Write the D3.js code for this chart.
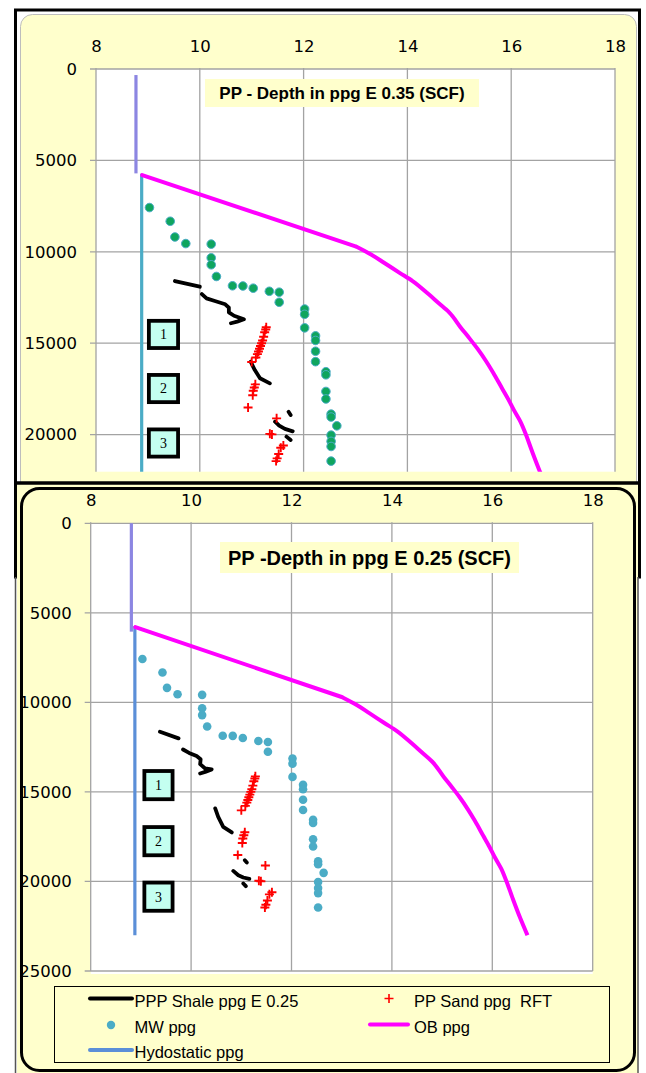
<!DOCTYPE html>
<html>
<head>
<meta charset="utf-8">
<script src="https://cdn.jsdelivr.net/npm/d3@7"></script>
<style>
  html, body { margin: 0; padding: 0; background: #fff; }
  svg { display: block; }
</style>
</head>
<body>
<svg id="chart" width="646" height="1073"></svg>
<script>
// ---- data (ppg vs depth in ft) ----
const ppgTicks = [8, 10, 12, 14, 16, 18];
const depthTicks = [0, 5000, 10000, 15000, 20000, 25000];

// mud weight
const mwPpg = [
  [9.03, 7580], [9.43, 8330], [9.52, 9190], [9.73, 9550], [10.22, 9580],
  [10.22, 10330], [10.22, 10710], [10.32, 11350], [10.63, 11860], [10.83, 11870],
  [11.03, 11990], [11.34, 12160], [11.53, 12210], [11.53, 12760], [12.02, 13130],
  [12.02, 13420], [12.02, 14160], [12.23, 14600], [12.23, 14850], [12.23, 15440],
  [12.23, 16010], [12.43, 16560], [12.43, 16730], [12.43, 17640], [12.43, 18050],
  [12.53, 18880], [12.53, 19040], [12.64, 19520], [12.53, 20030], [12.53, 20370],
  [12.53, 20650], [12.53, 21450]
];

// RFT sand pressures
const rftPpg = [
  [11.28, 14130], [11.27, 14250], [11.25, 14400], [11.23, 14650], [11.21, 14850],
  [11.19, 15000], [11.17, 15150], [11.15, 15300], [11.13, 15450], [11.11, 15600],
  [11.08, 15780], [11.00, 16030],
  [11.07, 17250], [11.05, 17420], [11.03, 17600], [11.02, 17850], [10.93, 18520],
  [11.48, 19110], [11.35, 19960], [11.39, 19990], [11.61, 20600], [11.56, 20720],
  [11.52, 21060], [11.49, 21300], [11.47, 21450]
];

// overburden
const obPpg = [
  [8.89, 5800], [13.0, 9700], [13.3, 10150], [13.55, 10600], [13.85, 11150],
  [14.1, 11600], [14.4, 12300], [14.6, 12800], [14.8, 13300], [15.03, 14150],
  [15.2, 14750], [15.35, 15300], [15.52, 16000], [15.65, 16600], [15.82, 17450],
  [15.95, 18100], [16.05, 18650], [16.18, 19300], [16.27, 19900], [16.4, 20900],
  [16.55, 22000], [16.7, 23000]
];

// hydrostatic
const hydrostaticPpg = [[8.88, 5730], [8.88, 23000]];

// shallow gradient above the overburden kick-off
const shallowPpgE35 = [[8.77, 330], [8.77, 5710]];
const shallowPpgE25 = [[8.81, 0], [8.81, 6050]];

// shale pore pressure (null separates log intervals)
const shaleE35 = [
  [9.52, 11600], [10.0, 11910], null,
  [10.04, 12310], [10.13, 12545], [10.29, 12690], [10.49, 12870], [10.56, 13060],
  [10.56, 13310], [10.66, 13500], [10.85, 13690], [10.72, 13820], [10.60, 13910], null,
  [10.98, 16010], [11.06, 16470], [11.16, 16920], [11.35, 17195], null,
  [11.71, 18750], [11.75, 18930], null,
  [11.45, 19290], [11.53, 19510], [11.64, 19690], [11.79, 19820], null,
  [11.67, 20110], [11.75, 20295]
];
const shaleE25 = [
  [9.38, 11640], [9.75, 12010], null,
  [9.84, 12630], [9.96, 12820], [10.11, 13000], [10.19, 13180], [10.18, 13450],
  [10.28, 13690], [10.41, 13740], [10.28, 13880], [10.18, 13970], null,
  [10.48, 15920], [10.54, 16390], [10.64, 16950], [10.81, 17260], null,
  [11.07, 18810], [11.11, 18940], null,
  [10.84, 19410], [10.94, 19650], [11.04, 19780], [11.16, 19855], null,
  [11.04, 20110], [11.09, 20260]
];

const zoneLabels = ["1", "2", "3"];
const legendLabels = ["PPP Shale ppg E 0.25", "PP Sand ppg  RFT", "MW ppg", "OB ppg", "Hydostatic ppg"];

// ---- drawing ----
const svg = d3.select("#chart");
const YELLOW = "#FFFFCC";
const GRID = "#A3A3A3";

// frame of the upper chart
svg.append("rect").attr("x", 15.5).attr("y", 10).attr("width", 624).attr("height", 567)
  .attr("fill", "#fff").attr("stroke", "#000").attr("stroke-width", 3);
svg.append("rect").attr("x", 20.5).attr("y", 14.5).attr("width", 616).attr("height", 620)
  .attr("rx", 12).attr("fill", YELLOW).attr("stroke", "#BDBDBD").attr("stroke-width", 1);

const panels = [
  {
    id: "e35", title: "PP - Depth in ppg E 0.35 (SCF)", titleSize: 17,
    titleBox: [205, 79, 274, 28],
    shale: shaleE35, shallow: shallowPpgE35,
    xr: [96, 615], yr: [69, 526], clipBottom: 471.7,
    mwFill: "#0FA55E", mwStroke: "#4BACC6", hydroColor: "#4BACC6",
    zoneX: 9.30, zoneDepths: [14520, 17480, 20460], zoneSize: [33, 31],
    tickSize: 16.5
  },
  {
    id: "e25", title: "PP -Depth in ppg E 0.25 (SCF)", titleSize: 20,
    titleBox: [220, 542, 299, 31],
    shale: shaleE25, shallow: shallowPpgE25,
    xr: [90.7, 592.7], yr: [523.3, 971], clipBottom: 975,
    mwFill: "#4BACC6", mwStroke: "none", hydroColor: "#5B8FD8",
    zoneX: 9.35, zoneDepths: [14620, 17750, 20850], zoneSize: [32, 32],
    tickSize: 16.5
  }
];

function drawPanel(p) {
  const x = d3.scaleLinear().domain([8, 18]).range(p.xr);
  const y = d3.scaleLinear().domain([0, 25000]).range(p.yr);
  const g = svg.append("g");
  const bottom = Math.min(p.clipBottom, p.yr[1]);

  // plot area
  g.append("rect").attr("x", p.xr[0]).attr("y", p.yr[0])
    .attr("width", p.xr[1] - p.xr[0]).attr("height", bottom - p.yr[0] + (p.clipBottom > p.yr[1] ? 3 : 0))
    .attr("fill", "#fff");

  const clipId = "clip-" + p.id;
  svg.append("clipPath").attr("id", clipId).append("rect")
    .attr("x", 0).attr("y", 0).attr("width", 646).attr("height", p.clipBottom);

  const grid = g.append("g").attr("clip-path", `url(#${clipId})`);
  grid.selectAll("line.v").data(ppgTicks).join("line")
    .attr("x1", d => x(d)).attr("x2", d => x(d))
    .attr("y1", p.yr[0] - 1).attr("y2", p.yr[1])
    .attr("stroke", GRID).attr("stroke-width", 1.3);
  grid.selectAll("line.h").data(depthTicks).join("line")
    .attr("x1", p.xr[0] - 6).attr("x2", p.xr[1])
    .attr("y1", d => y(d)).attr("y2", d => y(d))
    .attr("stroke", GRID).attr("stroke-width", 1.3);

  // axes labels
  const xAxis = d3.axisTop(x).tickValues(ppgTicks).tickSize(0).tickPadding(17);
  const gx = g.append("g").attr("transform", `translate(0,${p.yr[0]})`).call(xAxis);
  gx.select(".domain").remove();
  gx.selectAll("text").attr("font-family", "DejaVu Sans").attr("font-size", p.tickSize).attr("fill", "#000");

  const yAxis = d3.axisLeft(y).tickValues(depthTicks.filter(d => y(d) <= p.clipBottom))
    .tickSize(0).tickPadding(19).tickFormat(d3.format("d"));
  const gy = g.append("g").attr("transform", `translate(${p.xr[0]},0)`).call(yAxis);
  gy.select(".domain").remove();
  gy.selectAll("text").attr("font-family", "DejaVu Sans").attr("font-size", p.tickSize).attr("fill", "#000");

  // title
  g.append("rect").attr("x", p.titleBox[0]).attr("y", p.titleBox[1])
    .attr("width", p.titleBox[2]).attr("height", p.titleBox[3]).attr("fill", YELLOW);
  g.append("text").attr("x", p.titleBox[0] + p.titleBox[2] / 2)
    .attr("y", p.titleBox[1] + p.titleBox[3] / 2).attr("dy", "0.36em")
    .attr("text-anchor", "middle").attr("font-family", "Liberation Sans")
    .attr("font-weight", "bold").attr("font-size", p.titleSize).attr("fill", "#000")
    .text(p.title);

  const marks = g.append("g").attr("clip-path", `url(#${clipId})`);
  const line = d3.line().defined(d => d !== null).x(d => x(d[0])).y(d => y(d[1]));
  const smooth = d3.line().x(d => x(d[0])).y(d => y(d[1])).curve(d3.curveMonotoneY);

  marks.append("path").datum(p.shallow).attr("d", line)
    .attr("fill", "none").attr("stroke", "#8C86E2").attr("stroke-width", 3.2);
  marks.append("path").datum(hydrostaticPpg).attr("d", line)
    .attr("fill", "none").attr("stroke", p.hydroColor).attr("stroke-width", 3.2);
  // overburden: straight kick-off, then the smooth trend below it
  marks.append("path").datum(obPpg.slice(0, 2)).attr("d", line)
    .attr("fill", "none").attr("stroke", "#FF00FF").attr("stroke-width", 4)
    .attr("stroke-linecap", "round");
  marks.append("path").datum(obPpg.slice(1)).attr("d", smooth)
    .attr("fill", "none").attr("stroke", "#FF00FF").attr("stroke-width", 4)
    .attr("stroke-linejoin", "round");

  // zone boxes
  const zg = marks.selectAll("g.zone").data(zoneLabels).join("g")
    .attr("transform", (d, i) => `translate(${x(p.zoneX)},${y(p.zoneDepths[i])})`);
  zg.append("rect").attr("x", -p.zoneSize[0] / 2 + 1.9).attr("y", -p.zoneSize[1] / 2 + 1.9)
    .attr("width", p.zoneSize[0] - 3.8).attr("height", p.zoneSize[1] - 3.8)
    .attr("fill", "#C4FFF0").attr("stroke", "#000").attr("stroke-width", 3.8);
  zg.append("text").attr("text-anchor", "middle").attr("dy", "0.35em")
    .attr("font-family", "Liberation Serif").attr("font-size", 14).attr("fill", "#000")
    .text(d => d);

  // mud weight
  marks.selectAll("circle.mw").data(mwPpg).join("circle")
    .attr("cx", d => x(d[0])).attr("cy", d => y(d[1])).attr("r", 4.3)
    .attr("fill", p.mwFill).attr("stroke", p.mwStroke).attr("stroke-width", 1);

  // shale pore pressure
  marks.append("path").datum(p.shale).attr("d", line)
    .attr("fill", "none").attr("stroke", "#000").attr("stroke-width", 3.8)
    .attr("stroke-linecap", "round").attr("stroke-linejoin", "round");

  // RFT
  marks.selectAll("path.rft").data(rftPpg).join("path")
    .attr("d", d => {
      const cx = x(d[0]), cy = y(d[1]), s = 4.5;
      return `M${cx - s},${cy}H${cx + s}M${cx},${cy - s}V${cy + s}`;
    })
    .attr("stroke", "#FF0000").attr("stroke-width", 1.9);
}

drawPanel(panels[0]);

// frame of the lower chart, laid over the upper one
svg.append("rect").attr("x", 17).attr("y", 483).attr("width", 621).attr("height", 590).attr("fill", YELLOW);
svg.append("line").attr("x1", 15.5).attr("x2", 15.5).attr("y1", 577).attr("y2", 1073)
  .attr("stroke", "#555").attr("stroke-width", 1.5);
svg.append("line").attr("x1", 638).attr("x2", 638).attr("y1", 577).attr("y2", 1073)
  .attr("stroke", "#555").attr("stroke-width", 1.5);
svg.append("line").attr("x1", 14).attr("x2", 641).attr("y1", 483).attr("y2", 483)
  .attr("stroke", "#000").attr("stroke-width", 3.5);
svg.append("rect").attr("x", 21.5).attr("y", 488.5).attr("width", 613).attr("height", 582)
  .attr("rx", 18).attr("fill", YELLOW).attr("stroke", "#000").attr("stroke-width", 3);

drawPanel(panels[1]);

// legend
const lg = svg.append("g");
lg.append("rect").attr("x", 54.5).attr("y", 986.5).attr("width", 555).attr("height", 76)
  .attr("fill", YELLOW).attr("stroke", "#000").attr("stroke-width", 1);

const legendItems = [
  { label: legendLabels[0], kind: "line", color: "#000", sx: [90, 132], tx: 134.5, cy: 998.5, base: 1006.5 },
  { label: legendLabels[1], kind: "plus", color: "#FF0000", sx: [389], tx: 414, cy: 998.5, base: 1006.5 },
  { label: legendLabels[2], kind: "dot", color: "#4BACC6", sx: [111], tx: 134.5, cy: 1025, base: 1033 },
  { label: legendLabels[3], kind: "line", color: "#FF00FF", sx: [370, 408], tx: 414, cy: 1024.5, base: 1033 },
  { label: legendLabels[4], kind: "line", color: "#5B8FD8", sx: [90, 132], tx: 134.5, cy: 1050, base: 1058 }
];
legendItems.forEach(it => {
  if (it.kind === "line") {
    lg.append("line").attr("x1", it.sx[0]).attr("x2", it.sx[1]).attr("y1", it.cy).attr("y2", it.cy)
      .attr("stroke", it.color).attr("stroke-width", 4).attr("stroke-linecap", "round");
  } else if (it.kind === "plus") {
    const s = 4.5;
    lg.append("path").attr("d", `M${it.sx[0] - s},${it.cy}H${it.sx[0] + s}M${it.sx[0]},${it.cy - s}V${it.cy + s}`)
      .attr("stroke", it.color).attr("stroke-width", 1.6);
  } else {
    lg.append("circle").attr("cx", it.sx[0]).attr("cy", it.cy).attr("r", 4.2).attr("fill", it.color);
  }
  lg.append("text").attr("x", it.tx).attr("y", it.base)
    .attr("font-family", "Liberation Sans").attr("font-size", 16.5).attr("fill", "#000")
    .attr("xml:space", "preserve").style("white-space", "pre")
    .text(it.label);
});
</script>
</body>
</html>
